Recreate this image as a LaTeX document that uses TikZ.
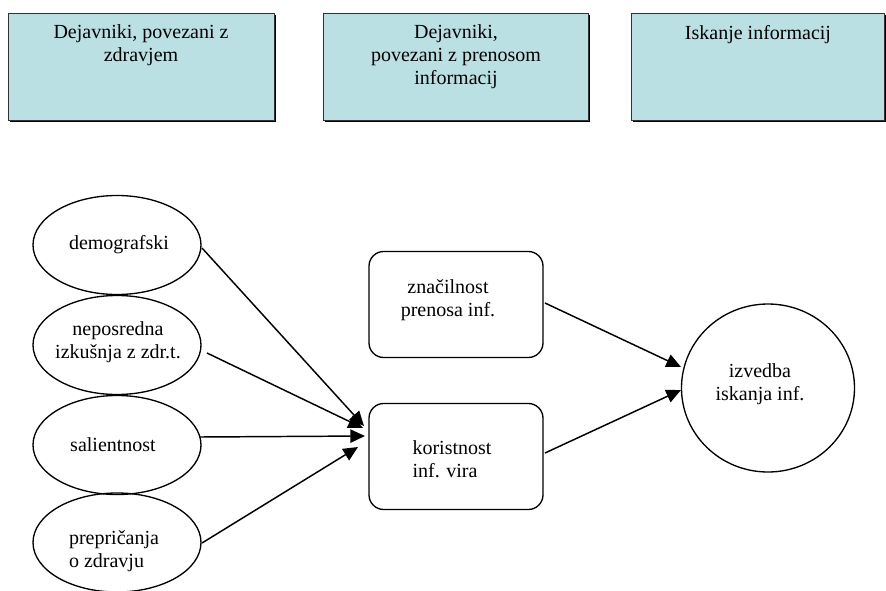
\documentclass[tikz,border=0pt]{standalone}
\usepackage{fontspec}
\setmainfont{Liberation Serif}
\usetikzlibrary{arrows.meta,shadows,calc}
\definecolor{topfill}{RGB}{186,224,227}
\tikzset{
  txt/.style={font=\fontsize{15}{17.25}\selectfont, inner sep=0pt, outer sep=0pt},
  topbox/.style={draw=black!80, line width=0.6pt, fill=topfill, inner sep=0pt, outer sep=0pt,
    drop shadow={shadow xshift=1.6pt, shadow yshift=-1.6pt, fill=black, opacity=1},
    minimum height=107*0.75pt},
  ell/.style={draw, ellipse, line width=1pt, inner sep=0pt, outer sep=0pt,
    minimum width=168*0.75pt, minimum height=99*0.75pt},
  rbox/.style={draw, rectangle, rounded corners=11pt, line width=1pt, inner sep=0pt, outer sep=0pt,
    minimum width=174*0.75pt, minimum height=106*0.75pt},
  arr/.style={line width=1.1pt, -{Triangle[length=11pt,width=10pt]}}
}
\usetikzlibrary{shapes.geometric}
\begin{document}
\begin{tikzpicture}[x=0.75pt,y=-0.75pt]
\useasboundingbox (0,0) rectangle (886,590);
% top boxes
\node[topbox, minimum width=266*0.75pt] (b1) at (141,66.5) {};
\node[topbox, minimum width=265*0.75pt] (b2) at (455.5,66.5) {};
\node[topbox, minimum width=253*0.75pt] (b3) at (757.5,66.5) {};
\node[txt, align=center, anchor=north] (tb1) at (141,25) {Dejavniki, povezani z\\zdravjem};
\node[txt, align=center, anchor=north] (tb2) at (456,25) {Dejavniki,\\povezani z prenosom\\informacij};
\node[txt, align=center, anchor=north] (tb3) at (758,25) {Iskanje informacij};
% ellipses
\node[ell] (dem) at (117,245) {};
\node[ell] (nep) at (117,345) {};
\node[ell] (sal) at (117,445) {};
\node[ell] (pre) at (117,542.5) {};
\node[txt] (tdem) at (119,245) {demografski};
\node[txt, align=center] (tnep) at (118,342) {neposredna\\izkušnja z zdr.t.};
\node[txt] (tsal) at (113,445) {salientnost};
\node[txt, align=left] (tpre) at (114,551) {prepričanja\\o zdravju};
% rounded boxes
\node[rbox] (zn) at (456,304.5) {};
\node[rbox] (kor) at (456,456.5) {};
\node[txt, align=center] (tzn) at (448,300) {značilnost\\prenosa inf.};
\node[txt, align=left] (tkor) at (452,459) {koristnost\\inf. vira};
% circle
\node[draw, ellipse, line width=1pt, inner sep=0pt, outer sep=0pt,
  minimum width=173*0.75pt, minimum height=168*0.75pt] (izv) at (768,388) {};
\node[txt, align=center] (tizv) at (760,384) {izvedba\\iskanja inf.};
% arrows
\draw[arr] ($(dem.east)+(1,3)$) -- ($(kor.west)+(-5,-30.5)$);
\draw[arr] ($(nep.east)+(6,8)$) -- ($(kor.west)+(-6,-28.5)$);
\draw[arr] ($(sal.east)+(-1,-8)$) -- ($(kor.west)+(-4,-20.5)$);
\draw[arr] ($(pre.east)+(1,0.5)$) -- ($(kor.west)+(-11,-9.5)$);
\draw[arr] ($(zn.east)+(2,-1.5)$) -- ($(izv.west)+(-0.5,-21)$);
\draw[arr] ($(kor.east)+(2,-3.5)$) -- ($(izv.west)+(-0.5,2)$);
\end{tikzpicture}
\end{document}
